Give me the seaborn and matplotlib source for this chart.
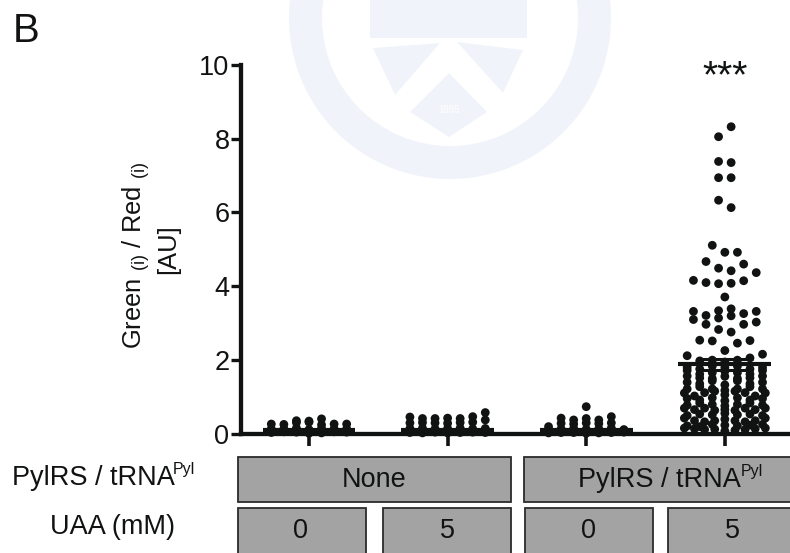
import numpy as np
import pandas as pd
import matplotlib
matplotlib.use("Agg")
import matplotlib.pyplot as plt
from matplotlib.patches import Rectangle, Polygon, Wedge
import seaborn as sns

categories = ["None/0", "None/5", "PylRS/0", "PylRS/5"]
axis_ticks = [0, 2, 4, 6, 8, 10]
means = [0.11, 0.11, 0.11, 1.89]
sems = [0.01, 0.01, 0.02, 0.15]

# Values per bin, ordered left to right within each bin
none_0 = [
    [0.04, 0.06, 0.05, 0.02, 0.03, 0.06, 0.05],
    [0.14, 0.14, 0.16, 0.12, 0.15, 0.14, 0.14],
    [0.27, 0.26, 0.31, 0.32, 0.25, 0.27, 0.27],
    [0.36, 0.35, 0.41],
]
none_5 = [
    [0.04, 0.03, 0.05, 0.03, 0.04, 0.05, 0.04],
    [0.15, 0.16, 0.14, 0.15, 0.16, 0.14, 0.15],
    [0.30, 0.31, 0.30, 0.29, 0.31, 0.32, 0.38],
    [0.46, 0.42, 0.42, 0.43, 0.42, 0.47, 0.58],
]
pyl_0 = [
    [0.03, 0.04, 0.04, 0.02, 0.03, 0.04, 0.05],
    [0.12, 0.14, 0.15, 0.13, 0.14, 0.16, 0.12],
    [0.20, 0.29, 0.27, 0.30, 0.28, 0.30, 0.10],
    [0.43, 0.38, 0.42, 0.38, 0.47],
    [0.74],
]
pyl_5 = [
    [0.16, 0.14, 0.12, 0.13, 0.08, 0.10, 0.12, 0.14, 0.16],
    [0.22, 0.20, 0.26, 0.24, 0.22, 0.24, 0.26],
    [0.43, 0.36, 0.33, 0.36, 0.40, 0.36, 0.33, 0.36, 0.43],
    [0.50, 0.54, 0.52, 0.56, 0.52, 0.54, 0.50],
    [0.70, 0.66, 0.70, 0.64, 0.66, 0.64, 0.70, 0.66, 0.70],
    [0.78, 0.84, 0.80, 0.76, 0.80, 0.84, 0.78],
    [0.96, 0.92, 0.98, 0.90, 0.98, 0.92, 0.96],
    [1.11, 1.03, 1.12, 1.16, 1.06, 1.16, 1.12, 1.03, 1.11],
    [1.22, 1.28, 1.22, 1.18, 1.22, 1.28, 1.22],
    [1.40, 1.36, 1.44, 1.33, 1.44, 1.36, 1.40],
    [1.57, 1.52, 1.50, 1.56, 1.50, 1.52, 1.57],
    [1.72, 1.62, 1.66, 1.70, 1.66, 1.62, 1.72],
    [1.80, 1.76, 1.84, 1.80, 1.84, 1.76, 1.80],
    [2.12, 1.98, 2.00, 1.95, 2.00, 2.06, 2.16],
    [2.54, 2.52, 2.26, 2.46, 2.53],
    [2.83, 2.76],
    [3.10, 2.97, 3.14, 3.20, 2.97, 3.03],
    [3.32, 3.21, 3.34, 3.39, 3.26, 3.32],
    [3.71],
    [4.16, 4.10, 4.07, 4.08, 4.15, 4.37],
    [4.67, 4.49, 4.42, 4.60],
    [5.11, 4.92, 4.92],
    [6.33, 6.13],
    [6.94, 6.94],
    [7.38, 7.35],
    [8.05, 8.32],
]
group_rows = [none_0, none_5, pyl_0, pyl_5]

COL = "#111313"
plt.rcParams["mathtext.fontset"] = "custom"
plt.rcParams["mathtext.rm"] = "Liberation Sans"
plt.rcParams["mathtext.default"] = "rm"
sns.set_style("white")
plt.rcParams["font.family"] = ["Liberation Sans", "DejaVu Sans"]

W, H = 790, 553
fig = plt.figure(figsize=(W / 100, H / 100), dpi=100)

# Background layer in pixel coordinates
bg = fig.add_axes([0, 0, 1, 1], zorder=0)
bg.set_xlim(0, W)
bg.set_ylim(H, 0)
bg.axis("off")

# Watermark crest
WM = "#f0f4fa"
bg.add_patch(Wedge((450, 18), 161, 0, 360, width=33, fc=WM, ec="none"))
for pts in [
    [(370, 0), (527, 0), (527, 38), (370, 38)],
    [(373, 48), (440, 43), (395, 95)],
    [(457, 42), (523, 50), (503, 93)],
    [(449, 73), (487, 112), (449, 137), (410, 112)],
]:
    bg.add_patch(Polygon(pts, closed=True, fc=WM, ec="none"))
bg.add_patch(Wedge((450, 0), 45, 180, 360, width=20, fc="white", ec="none"))
bg.text(449, 110, "1885", ha="center", va="center", fontsize=7, color="#fafbfd", weight="bold")

# Condition boxes
BOX = "#a3a3a3"
for x0, x1, y0, y1 in [
    (237.5, 511, 457, 502), (523.5, 800, 457, 502),
    (238, 366, 508, 560), (382.5, 511, 508, 560),
    (525, 653, 508, 560), (668, 800, 508, 560),
]:
    bg.add_patch(Rectangle((x0, y0), x1 - x0, y1 - y0, fc=BOX, ec="#2b2b2b", lw=1.3))

FS = 19.5
SUP = 11.5
bg.text(374, 480, "None", ha="center", va="center", fontsize=FS, color=COL)
bg.text(578, 487, "PylRS / tRNA", ha="left", va="baseline", fontsize=FS, color=COL)
bg.text(741, 476, "Pyl", ha="left", va="baseline", fontsize=SUP, color=COL)
for x, t in zip([301, 447, 589, 732], ["0", "5", "0", "5"]):
    bg.text(x, 531, t, ha="center", va="center", fontsize=FS, color=COL)
bg.text(12, 485, "PylRS / tRNA", ha="left", va="baseline", fontsize=FS, color=COL)
bg.text(173, 474, "Pyl", ha="left", va="baseline", fontsize=SUP, color=COL)
bg.text(112, 527, "UAA (mM)", ha="center", va="center", fontsize=FS, color=COL)
bg.text(13, 31, "B", ha="left", va="center", fontsize=29, color=COL)
bg.text(136, 256, "Green $_{\\mathrm{(i)}}$ / Red $_{\\mathrm{(i)}}$", rotation=90,
        ha="center", va="center", fontsize=18.4, color=COL)
bg.text(168, 249, "[AU]", rotation=90, ha="center", va="center", fontsize=18.4, color=COL)

# Data layer
y0_px, y10_px = 434, 64.7
ax = fig.add_axes([240.5 / W, 1 - y0_px / H, (W - 240.5) / W, (y0_px - y10_px) / H], zorder=1)
ax.patch.set_alpha(0)

STEP, MAXW = 0.0906, 0.584
rows = []
for g, bins in enumerate(group_rows):
    for b in bins:
        n = len(b)
        step = min(STEP, MAXW / max(n - 1, 1))
        for j, v in enumerate(b):
            rows.append({"pos": g + (j - (n - 1) / 2) * step, "value": v})
df = pd.DataFrame(rows)

sns.scatterplot(data=df, x="pos", y="value", ax=ax, s=40, color=COL, edgecolor="none",
                linewidth=0, clip_on=False, zorder=3, legend=False)

for g, (m, s) in enumerate(zip(means, sems)):
    ax.hlines(m, g - 0.335, g + 0.335, color=COL, lw=3.0, zorder=4, clip_on=False)
    ax.vlines(g, m - s, m + s, color=COL, lw=2.2, zorder=4)
    ax.hlines([m - s, m + s], g - 0.2, g + 0.2, color=COL, lw=2.2, zorder=4, clip_on=False)

ax.set_xlim(-0.494, 3.47)
ax.set_ylim(0, 10)
ax.set_xticks(range(len(categories)))
ax.set_xticklabels([])
ax.set_yticks(axis_ticks)
ax.set_yticklabels([str(t) for t in axis_ticks], fontsize=19.5, color=COL)
ax.set_xlabel("")
ax.set_ylabel("")
ax.tick_params(axis="y", length=7, width=2.4, color=COL, left=True, pad=1)
ax.tick_params(axis="x", length=8.5, width=2.6, color=COL, bottom=True)
for side in ["top", "right"]:
    ax.spines[side].set_visible(False)
for side in ["left", "bottom"]:
    ax.spines[side].set_linewidth(3.1)
    ax.spines[side].set_color(COL)
    ax.spines[side].set_capstyle("projecting")
ax.text(3, 9.65, "***", ha="center", va="center", fontsize=28, color=COL)

fig.savefig("out.png", dpi=100, facecolor="white")
